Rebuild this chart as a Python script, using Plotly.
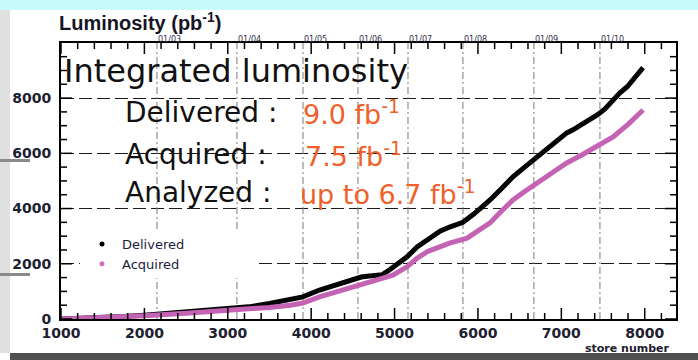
import plotly.graph_objects as go

# ---------------- data ----------------
delivered_store = [1000, 1250, 1500, 1750, 2000, 2250, 2500, 2750, 3000, 3250, 3500, 3750, 3900,
                   4100, 4300, 4500, 4600, 4700, 4850, 4950, 5050, 5150, 5270, 5400, 5545, 5660,
                   5750, 5820, 5950, 6050, 6145, 6280, 6420, 6560, 6710, 6880, 7065, 7140, 7280,
                   7430, 7520, 7620, 7700, 7790, 7900, 7980]
delivered_lumi = [0, 20, 50, 90, 140, 200, 260, 320, 390, 440, 560, 700, 800,
                  1050, 1250, 1430, 1520, 1560, 1600, 1800, 2050, 2250, 2610, 2880, 3180, 3330,
                  3420, 3500, 3800, 4050, 4310, 4720, 5150, 5500, 5870, 6300, 6740, 6850, 7100,
                  7390, 7600, 7940, 8180, 8410, 8800, 9100]

acquired_store = [1000, 1500, 2000, 2500, 3000, 3250, 3500, 3750, 3900, 4100, 4300, 4585, 4800,
                  4980, 5150, 5270, 5400, 5580, 5660, 5870, 6000, 6145, 6280, 6420, 6560, 6710,
                  6880, 7065, 7250, 7460, 7620, 7800, 7980]
acquired_lumi = [0, 40, 120, 210, 310, 340, 420, 500, 580, 800, 980, 1230, 1400,
                 1590, 1890, 2200, 2450, 2680, 2750, 2930, 3180, 3480, 3900, 4310, 4620, 4930,
                 5300, 5650, 5950, 6300, 6590, 7050, 7570]

date_store = [2151, 3110, 3902, 4561, 5161, 5820, 6671, 7463]
date_labels = ["01/03", "01/04", "01/05", "01/06", "01/07", "01/08", "01/09", "01/10"]

# ---------------- geometry helpers ----------------
W, H = 698, 360
L, R, T, B = 61, 676, 43, 319
X_RANGE = [1000, 8375]
Y_RANGE = [0, 9995]
X_MAJOR, X_MINOR = 1000, 200
Y_MAJOR, Y_MINOR = 2000, 500


def px(x):
    return (x - L) / (R - L)


def py(y):
    return (B - y) / (B - T)


def dx(x):  # pixel -> data x (for decoration only)
    return X_RANGE[0] + px(x) * (X_RANGE[1] - X_RANGE[0])


def dy(y):  # pixel -> data y (for decoration only)
    return Y_RANGE[0] + py(y) * (Y_RANGE[1] - Y_RANGE[0])


fig = go.Figure()

fig.add_trace(go.Scatter(x=delivered_store, y=delivered_lumi, mode="lines",
                         line=dict(color="#050505", width=5), showlegend=False))
fig.add_trace(go.Scatter(x=acquired_store, y=acquired_lumi, mode="lines",
                         line=dict(color="#c462b4", width=5), showlegend=False))

# legend entries (dots)
fig.add_trace(go.Scatter(x=[None], y=[None], mode="markers", name="Delivered",
                         marker=dict(color="#000000", size=5, symbol="circle")))
fig.add_trace(go.Scatter(x=[None], y=[None], mode="markers", name="Acquired",
                         marker=dict(color="#d070c0", size=5, symbol="circle")))

FR = "DejaVu Sans"
tickcol = "#202030"

fig.update_layout(
    width=W, height=H,
    margin=dict(l=L, r=W - R, t=T, b=H - B, pad=0),
    paper_bgcolor="white", plot_bgcolor="white",
    xaxis=dict(range=X_RANGE, tickmode="linear", tick0=X_RANGE[0], dtick=X_MAJOR,
               showgrid=False, zeroline=False, ticks="",
               showline=True, linewidth=2, linecolor="black", mirror=True,
               tickfont=dict(family=FR, size=14, color=tickcol, weight="bold")),
    yaxis=dict(range=Y_RANGE, tickmode="linear", tick0=0, dtick=Y_MAJOR, tickformat="d",
               ticksuffix=" ",
               showgrid=True, gridcolor="#1a1a1a",
               gridwidth=1, griddash="13px,5px", zeroline=False, ticks="",
               showline=True, linewidth=2, linecolor="black", mirror=True,
               tickfont=dict(family=FR, size=14, color=tickcol, weight="bold")),
    legend=dict(x=px(82), y=py(229), xanchor="left", yanchor="top",
                bgcolor="rgba(0,0,0,0)", borderwidth=0,
                font=dict(family=FR, size=13, color="#1c1c3c"), itemwidth=30,
                tracegroupgap=0),
    showlegend=True,
)

shapes = []
# date gridlines (dash-dot), derived from the date positions
for s in date_store:
    shapes.append(dict(type="line", xref="x", yref="y", x0=s, x1=s, y0=Y_RANGE[0], y1=Y_RANGE[1],
                       line=dict(color="#7a7a7a", width=1, dash="7px,3px,2px,3px"),
                       layer="between"))
shapes.append(
    # legend box (opaque, above grid, below data)
    dict(type="rect", xref="x", yref="y", x0=dx(80), x1=dx(256), y0=dy(278), y1=dy(229),
         fillcolor="white", line=dict(width=0), layer="between"))

# inside tick marks on all four sides (ROOT style frame)
tk = dict(color="black", width=1.5)
xlen_major, xlen_minor = 11 / (B - T), 6 / (B - T)
ylen_major, ylen_minor = 11 / (R - L), 6 / (R - L)
v = X_RANGE[0]
while v <= X_RANGE[1]:
    ln = xlen_major if (v - X_RANGE[0]) % X_MAJOR == 0 else xlen_minor
    shapes.append(dict(type="line", xref="x", yref="paper", x0=v, x1=v, y0=0, y1=ln,
                       line=tk, layer="above"))
    shapes.append(dict(type="line", xref="x", yref="paper", x0=v, x1=v, y0=1 - ln, y1=1,
                       line=tk, layer="above"))
    v += X_MINOR
v = Y_RANGE[0]
while v <= Y_RANGE[1]:
    ln = ylen_major if v % Y_MAJOR == 0 else ylen_minor
    shapes.append(dict(type="line", xref="paper", yref="y", x0=0, x1=ln, y0=v, y1=v,
                       line=tk, layer="above"))
    shapes.append(dict(type="line", xref="paper", yref="y", x0=1 - ln, x1=1, y0=v, y1=v,
                       line=tk, layer="above"))
    v += Y_MINOR

shapes += [
    # slide decorations
    dict(type="rect", xref="paper", yref="paper", x0=px(0), x1=px(W), y0=py(10), y1=py(0),
         fillcolor="#c8fcfc", line=dict(width=0), layer="below"),
    dict(type="rect", xref="paper", yref="paper", x0=px(0), x1=px(10), y0=py(353), y1=py(10),
         fillcolor="#e0e0e0", line=dict(width=0), layer="below"),
    dict(type="rect", xref="paper", yref="paper", x0=px(0), x1=px(30), y0=py(162), y1=py(159),
         fillcolor="#8a8a8a", line=dict(width=0), layer="below"),
    dict(type="rect", xref="paper", yref="paper", x0=px(0), x1=px(30), y0=py(276), y1=py(273),
         fillcolor="#8a8a8a", line=dict(width=0), layer="below"),
    dict(type="rect", xref="paper", yref="paper", x0=px(10), x1=px(W), y0=py(H), y1=py(353),
         fillcolor="#505050", line=dict(width=0), layer="below"),
]
fig.update_layout(shapes=shapes)

orange = "#f0602a"
ann = [
    dict(text="Luminosity (pb<sup>-1</sup>)", x=px(57), y=py(21),
         font=dict(family="Liberation Sans", size=20, color="#151525", weight="bold")),
    dict(text="Integrated luminosity", x=px(62), y=py(71),
         font=dict(family=FR, size=32, color="#111111")),
    dict(text="Delivered :", x=px(123), y=py(112),
         font=dict(family=FR, size=28, color="#111111")),
    dict(text="9.0 fb<sup>-1</sup>", x=px(301), y=py(112),
         font=dict(family=FR, size=27, color=orange)),
    dict(text="Acquired :", x=px(123), y=py(154),
         font=dict(family=FR, size=28, color="#111111")),
    dict(text="7.5 fb<sup>-1</sup>", x=px(303), y=py(154),
         font=dict(family=FR, size=27, color=orange)),
    dict(text="Analyzed :", x=px(123), y=py(192),
         font=dict(family=FR, size=28, color="#111111")),
    dict(text="up to 6.7 fb<sup>-1</sup>", x=px(298), y=py(192),
         font=dict(family=FR, size=27, color=orange)),
    dict(text="store number", x=px(672), y=py(348), xanchor="right",
         font=dict(family=FR, size=11, color="#202030", weight="bold")),
]
for a in ann:
    a.setdefault("xanchor", "left")
    fig.add_annotation(xref="paper", yref="paper", yanchor="middle", showarrow=False, **a)

# date labels on the top edge, starting at each date line
for s, lab in zip(date_store, date_labels):
    fig.add_annotation(x=s, xref="x", y=py(40), yref="paper", text=lab, showarrow=False,
                       xanchor="left", yanchor="middle", xshift=-1,
                       font=dict(family=FR, size=8, color="#303048"))

fig.write_html("out.html")
